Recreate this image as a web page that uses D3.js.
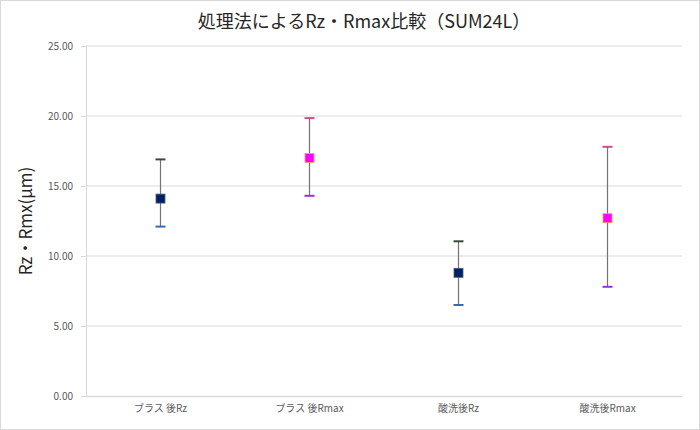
<!DOCTYPE html>
<html><head><meta charset="utf-8">
<script src="https://cdn.jsdelivr.net/npm/d3@7"></script>
<style>body{margin:0;background:#fff}svg{display:block}</style>
</head><body>
<script>
const categories = ["ブラス 後Rz", "ブラス 後Rmax", "酸洗後Rz", "酸洗後Rmax"];
const means = [14.1, 17.0, 8.8, 12.7];
const highs = [16.9, 19.85, 11.05, 17.8];
const lows = [12.1, 14.3, 6.5, 7.8];
const yTicks = [0, 5, 10, 15, 20, 25];
const kinds = ["Rz", "Rmax", "Rz", "Rmax"];

const W = 700, H = 430;
const svg = d3.select("body").append("svg").attr("width", W).attr("height", H);
svg.append("rect").attr("x",0.5).attr("y",0.5).attr("width",W-1).attr("height",H-1)
  .attr("fill","#fff").attr("stroke","#d9d9d9");

const font = "'Noto Sans CJK JP','Noto Sans',sans-serif";
const x = d3.scaleBand().domain(categories).range([86, 682]);
const y = d3.scaleLinear().domain([0, 25]).range([396, 46]);

// gridlines
svg.append("g").selectAll("line").data(yTicks.filter(d=>d>0)).join("line")
  .attr("x1", 86).attr("x2", 682).attr("y1", d=>y(d)).attr("y2", d=>y(d))
  .attr("stroke", "#d9d9d9").attr("stroke-width", 1);

// y axis
const yAxis = d3.axisLeft(y).tickValues(yTicks).tickFormat(d3.format(".2f")).tickSize(5).tickPadding(8);
const gy = svg.append("g").attr("transform","translate(86,0)").call(yAxis);
gy.select(".domain").attr("stroke","#d9d9d9");
gy.selectAll(".tick line").attr("stroke","#d9d9d9");
gy.selectAll("text").attr("fill","#595959").style("font-family", font).style("font-size","10px");

// x axis
const xAxis = d3.axisBottom(x).tickSize(0).tickPadding(9);
const gx = svg.append("g").attr("transform","translate(0,396)").call(xAxis);
gx.select(".domain").attr("stroke","#d9d9d9").attr("stroke-width",1.5);
gx.selectAll("text").attr("fill","#595959").style("font-family", font).style("font-size","10px");

// error bars
const g = svg.append("g");
categories.forEach((c, i) => {
  const cx = x(c) + x.bandwidth()/2;
  g.append("line").attr("x1",cx).attr("x2",cx).attr("y1",y(highs[i])).attr("y2",y(lows[i]))
    .attr("stroke","#737373").attr("stroke-width",1.2);
  const rz = kinds[i] === "Rz";
  g.append("line").attr("x1",cx-5).attr("x2",cx+5).attr("y1",y(highs[i])).attr("y2",y(highs[i]))
    .attr("stroke", rz ? "#3a4a3a" : "#c8508c").attr("stroke-width",2);
  g.append("line").attr("x1",cx-5).attr("x2",cx+5).attr("y1",y(lows[i])).attr("y2",y(lows[i]))
    .attr("stroke", rz ? "#2f6db5" : "#9b30d8").attr("stroke-width",2);
  g.append("rect").attr("x",cx-4.5).attr("y",y(means[i])-4.5).attr("width",9).attr("height",9)
    .attr("fill", rz ? "#002060" : "#ff00ff")
    .attr("stroke", rz ? "#4a5a8a" : "#f0a060").attr("stroke-width",0.8);
});

// title
svg.append("text").attr("x", 364).attr("y", 28).attr("text-anchor","middle")
  .style("font-family", font).style("font-size","18px").attr("fill","#262626")
  .text("処理法によるRz・Rmax比較（SUM24L）");

// y title
svg.append("text").attr("transform","translate(32,221) rotate(-90)").attr("text-anchor","middle")
  .style("font-family", font).style("font-size","17px").attr("fill","#262626")
  .text("Rz・Rmx(μm)");
</script>
</body></html>
